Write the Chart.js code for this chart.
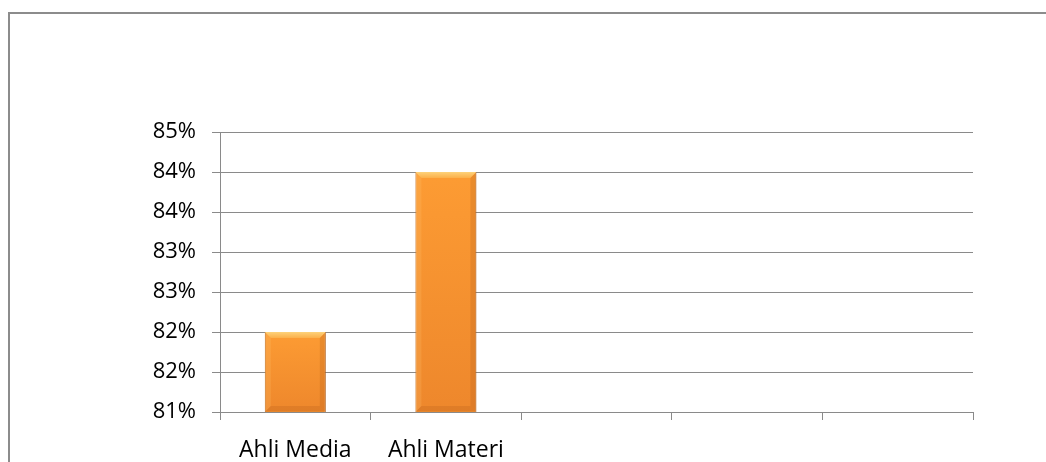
<html>
<head>
<title>Ahli Media / Ahli Materi</title>
<script src="https://cdn.jsdelivr.net/npm/chart.js@4.4.1/dist/chart.umd.min.js"></script>
<style type="text/css">
  body {
    margin: 0;
    background: #ffffff;
  }
  #wrap {
    width: 1046px;
    height: 462px;
    position: relative;
  }
</style>
</head>
<body>

<div id="wrap">
  <canvas id="barchart"></canvas>
</div>

<script>
// data
var categories = ['Ahli Media', 'Ahli Materi', '', '', ''];
var values = [82, 84, null, null, null];
var tickLabels = ['81%', '82%', '82%', '83%', '83%', '84%', '84%', '85%'];
var yMin = 81;
var yMax = 84.5;
var yStep = 0.5;

var gridColor = '#8a8a8a';
var fontFamily = "'Open Sans', sans-serif";

// outer frame of the chart (open at the right and bottom, like the cropped picture)
var framePlugin = {
  id: 'frame',
  beforeDraw: function(chart) {
    var c = chart.ctx;
    c.save();
    c.strokeStyle = '#8c8c8c';
    c.lineWidth = 2;
    c.strokeRect(9, 13, 1100, 500);
    c.restore();
  }
};

// bevel highlights on the bars
var bevelPlugin = {
  id: 'bevel',
  afterDatasetsDraw: function(chart) {
    var c = chart.ctx;
    var meta = chart.getDatasetMeta(0);
    meta.data.forEach(function(bar, i) {
      if (values[i] == null) return;
      var p = bar.getProps(['x', 'y', 'base', 'width'], true);
      var l = p.x - p.width / 2, r = p.x + p.width / 2;
      var t = p.y, b = Math.min(p.base, chart.chartArea.bottom), e = 6;
      c.save();
      // body gradient, per bar
      var body = c.createLinearGradient(0, t, 0, b);
      body.addColorStop(0, 'rgba(255, 160, 52, 0.6)');
      body.addColorStop(1, 'rgba(230, 126, 40, 0.6)');
      c.fillStyle = body;
      c.fillRect(l + 1, t + 1, p.width - 2, b - t - 2);
      // top bevel
      var g = c.createLinearGradient(0, t, 0, t + e);
      g.addColorStop(0, '#fdd27a');
      g.addColorStop(1, '#fbb04a');
      c.fillStyle = g;
      c.beginPath();
      c.moveTo(l, t); c.lineTo(r, t); c.lineTo(r - e, t + e); c.lineTo(l + e, t + e);
      c.closePath(); c.fill();
      // bottom bevel
      c.fillStyle = 'rgba(190, 100, 30, 0.3)';
      c.beginPath();
      c.moveTo(l, b); c.lineTo(r, b); c.lineTo(r - e, b - e); c.lineTo(l + e, b - e);
      c.closePath(); c.fill();
      // left and right bevels
      c.fillStyle = 'rgba(255, 200, 120, 0.2)';
      c.beginPath();
      c.moveTo(l, t); c.lineTo(l + e, t + e); c.lineTo(l + e, b - e); c.lineTo(l, b);
      c.closePath(); c.fill();
      c.fillStyle = 'rgba(160, 80, 20, 0.2)';
      c.beginPath();
      c.moveTo(r, t); c.lineTo(r - e, t + e); c.lineTo(r - e, b - e); c.lineTo(r, b);
      c.closePath(); c.fill();
      c.restore();
    });
  }
};

var ctx = document.getElementById('barchart').getContext('2d');
var myChart = new Chart(ctx, {
  type: 'bar',
  data: {
    labels: categories,
    datasets: [{
      data: values,
      backgroundColor: '#f99532',
      borderColor: '#b8661f',
      borderWidth: 1,
      barPercentage: 0.405,
      categoryPercentage: 1
    }]
  },
  options: {
    responsive: true,
    maintainAspectRatio: false,
    animation: false,
    layout: {
      padding: { top: 132, right: 73, left: 0, bottom: 0 }
    },
    plugins: {
      legend: { display: false },
      tooltip: { enabled: false }
    },
    scales: {
      x: {
        grid: {
          display: true,
          drawOnChartArea: false,
          drawTicks: true,
          tickLength: 8,
          color: gridColor
        },
        border: { display: true, color: gridColor, width: 1 },
        ticks: {
          color: '#000000',
          padding: 17,
          maxRotation: 0,
          font: { family: fontFamily, size: 23 }
        },
        afterFit: function(scale) { scale.height = 50; }
      },
      y: {
        min: yMin,
        max: yMax,
        ticks: {
          stepSize: yStep,
          color: '#000000',
          padding: 16,
          font: { family: fontFamily, size: 22 },
          callback: function(value, index) { return tickLabels[index]; }
        },
        grid: {
          color: gridColor,
          lineWidth: 1,
          tickLength: 8
        },
        border: { display: true, color: gridColor, width: 1 },
        afterFit: function(scale) { scale.width = 220; }
      }
    }
  },
  plugins: [framePlugin, bevelPlugin]
});
</script>

</body>
</html>
